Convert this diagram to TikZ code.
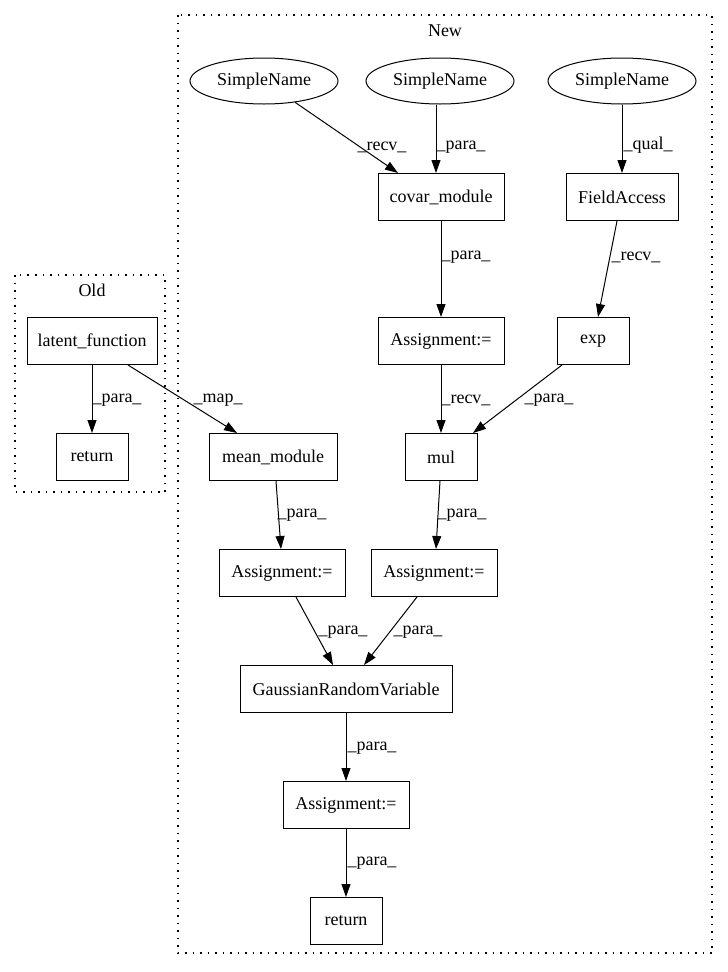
\documentclass[tikz,border=0pt]{standalone}
\usepackage{fontspec}
\setmainfont{Liberation Serif}
\usepackage{tikz}
\usetikzlibrary{shapes}
\usetikzlibrary{arrows.meta}
\tikzset{box/.style={draw, rectangle, line width=1pt, minimum height=47pt, inner sep=0pt,
    font=\fontsize{18}{20}\selectfont},
oval/.style={draw, ellipse, line width=1pt, minimum width=148pt, minimum height=46pt, inner sep=0pt,
    font=\fontsize{18}{20}\selectfont},
edge/.style={line width=1pt, -{Triangle[length=13pt,width=9pt]}},
lbl/.style={inner sep=0pt, font=\fontsize{18}{20}\selectfont},
cluster/.style={line width=1.2pt, dash pattern=on 1.5pt off 6pt}}

\begin{document}
\begin{tikzpicture}[x=1pt,y=-1pt]
\useasboundingbox (0,0) rectangle (728,972);
\draw[cluster] (178,15) rectangle (712,953);
\node[lbl] (new) at (445,31) {New};
\draw[cluster] (15,275) rectangle (165,492);
\node[lbl] (old) at (92,290) {Old};

\node[oval] (sn1) at (264,81) {SimpleName};
\node[oval] (sn2) at (440,81) {SimpleName};
\node[oval] (sn3) at (622,81) {SimpleName};
\node[box, minimum width=126pt] (covar) at (441,197) {covar\_module};
\node[box, minimum width=112pt] (fa) at (622,197) {FieldAccess};
\node[box, minimum width=126pt] (asg1) at (441,341) {Assignment:=};
\node[box, minimum width=72pt] (expn) at (593,341) {exp};
\node[box, minimum width=130pt] (latent) at (92,341) {latent\_function};
\node[box, minimum width=72pt] (ret1) at (92,457) {return};
\node[box, minimum width=128pt] (mean) at (273,457) {mean\_module};
\node[box, minimum width=72pt] (mul) at (441,457) {mul};
\node[box, minimum width=126pt] (asg2) at (282,573) {Assignment:=};
\node[box, minimum width=126pt] (asg3) at (434,573) {Assignment:=};
\node[box, minimum width=212pt] (grv) at (346,689) {GaussianRandomVariable};
\node[box, minimum width=126pt] (asg4) at (346,805) {Assignment:=};
\node[box, minimum width=72pt] (ret2) at (346,921) {return};

\draw[edge] (sn1) -- ([xshift=-43pt]covar.north);
\node[lbl] (l1) at (382,147) {\_recv\_};
\draw[edge] ([xshift=-4pt]sn2.south) -- ([xshift=-5pt]covar.north);
\node[lbl] (l2) at (461,147) {\_para\_};
\draw[edge] (sn3) -- (fa);
\node[lbl] (l3) at (648,145) {\_qual\_};
\draw[edge] (covar) -- (asg1);
\node[lbl] (l4) at (466,257) {\_para\_};
\draw[edge] ([xshift=-5pt]fa.south) -- ([xshift=5pt]expn.north);
\node[lbl] (l5) at (636,257) {\_recv\_};
\draw[edge] (asg1) -- (mul);
\node[lbl] (l6) at (466,400) {\_recv\_};
\draw[edge] ([xshift=-31pt]expn.south) -- ([xshift=32pt]mul.north);
\node[lbl] (l7) at (549,400) {\_para\_};
\draw[edge] (latent) -- (ret1);
\node[lbl] (l8) at (117,400) {\_para\_};
\draw[edge] ([xshift=36pt]latent.south) -- ([xshift=-36pt]mean.north);
\node[lbl] (l9) at (218,400) {\_map\_};
\draw[edge] ([xshift=3pt]mean.south) -- ([xshift=-1pt]asg2.north);
\node[lbl] (l10) at (302,515) {\_para\_};
\draw[edge] ([xshift=-1pt]mul.south) -- ([xshift=2pt]asg3.north);
\node[lbl] (l11) at (462,515) {\_para\_};
\draw[edge] ([xshift=14pt]asg2.south) -- ([xshift=-13pt]grv.north);
\node[lbl] (l12) at (343,632) {\_para\_};
\draw[edge] ([xshift=-17pt]asg3.south) -- ([xshift=18pt]grv.north);
\node[lbl] (l13) at (418,632) {\_para\_};
\draw[edge] (grv) -- (asg4);
\node[lbl] (l14) at (372,748) {\_para\_};
\draw[edge] (asg4) -- (ret2);
\node[lbl] (l15) at (372,863) {\_para\_};
\end{tikzpicture}
\end{document}
